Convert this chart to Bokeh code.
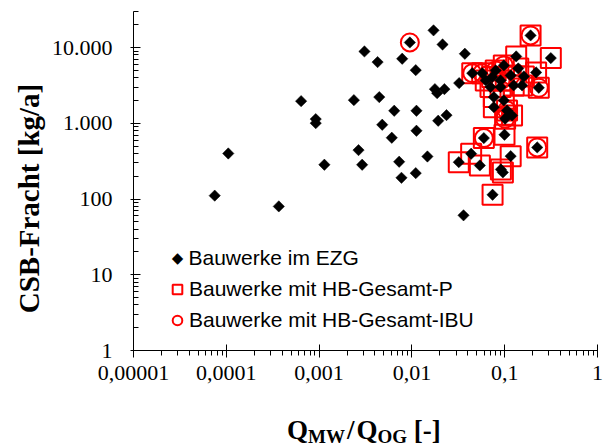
import numpy as np
from bokeh.plotting import figure
from bokeh.layouts import row, column
from bokeh.models import (Range1d, FixedTicker, CustomJSTickFormatter, Legend, LegendItem, Label, Div)
from bokeh.embed import file_html
from bokeh.resources import INLINE

# ---- data ----
# Bauwerke im EZG (all structures) that carry no extra marker
only_x = [7.5e-5, 1.05e-4, 3.68e-4, 6.4e-4, 9.2e-4, 9.2e-4, 1.14e-3, 2.37e-3, 2.66e-3, 2.91e-3,
          3.08e-3, 4.27e-3, 4.45e-3, 4.79e-3, 6.07e-3, 6.45e-3, 7.29e-3, 7.72e-3, 7.86e-3, 0.0110,
          0.0110, 0.0112, 0.0112, 0.0147, 0.0171, 0.0177, 0.0187, 0.0192, 0.0214, 0.0224,
          0.0236, 0.0323, 0.036, 0.0372]
only_y = [111, 400, 80, 1965, 1137, 1006, 284, 2026, 443, 284,
          8900, 6440, 2220, 958, 645, 1466, 311, 191, 7130, 5040,
          220, 1466, 798, 365, 16900, 2830, 2505, 1082, 11000, 2830,
          1283, 3400, 61, 8300]

# Bauwerke mit HB-Gesamt-P
p_x = [0.133, 0.314, 0.190, 0.0447, 0.0572, 0.0978, 0.0733, 0.116, 0.161, 0.233,
       0.0703, 0.0902, 0.125, 0.154, 0.0764, 0.0978, 0.0764, 0.106, 0.12, 0.101,
       0.0902, 0.0625, 0.08, 0.14, 0.218, 0.0596, 0.0995, 0.224, 0.116, 0.032,
       0.0435, 0.054, 0.091, 0.0956, 0.074]
p_y = [7650, 7270, 14500, 4600, 4600, 5820, 4080, 4295, 4170, 2950,
       3010, 3010, 3170, 3170, 2220, 2010, 1637, 1480, 1270, 1150,
       3690, 3690, 5000, 5310, 4700, 638, 707, 481, 369, 307,
       397, 278, 246, 225, 114]

# Bauwerke mit HB-Gesamt-IBU
ibu_x = [0.0095, 0.190, 0.0447, 0.0572, 0.0978, 0.116, 0.233, 0.106, 0.101, 0.0902, 0.08, 0.0596, 0.224]
ibu_y = [11700, 14500, 4600, 4600, 5820, 4295, 2950, 1480, 1150, 3690, 5000, 638, 481]

# all structures (EZG) = unmarked + marked ones
ezg_x = only_x + p_x + [ibu_x[0]]
ezg_y = only_y + p_y + [ibu_y[0]]

x_ticks = [1e-5, 1e-4, 1e-3, 1e-2, 1e-1, 1.0]
x_tick_labels = ["0,00001", "0,0001", "0,001", "0,01", "0,1", "1"]
y_ticks = [1, 10, 100, 1000, 10000]
y_tick_labels = ["1", "10", "100", "1.000", "10.000"]

series_names = ["Bauwerke im EZG", "Bauwerke mit HB-Gesamt-P", "Bauwerke mit HB-Gesamt-IBU"]
y_title = "CSB-Fracht [kg/a]"
x_title_parts = ["Q", "MW", "/", "Q", "OG", " [-]"]

LEG_FONT = "Liberation Sans"
LEG_SIZE = "21px"

# ---- main figure ----
p = figure(width=557, height=400, x_axis_type="log", y_axis_type="log",
           x_range=Range1d(1e-5, 1), y_range=Range1d(1, 30000),
           output_backend="svg", toolbar_location=None,
           min_border_left=86, min_border_right=7, min_border_top=11, min_border_bottom=50)
p.outline_line_color = None
p.xgrid.visible = False
p.ygrid.visible = False

x_minor = [k * 10.0 ** e for e in range(-5, 0) for k in range(2, 10)]
y_minor = [k * 10.0 ** e for e in range(0, 5) for k in range(2, 10) if k * 10.0 ** e <= 30000]
p.xaxis.ticker = FixedTicker(ticks=x_ticks, minor_ticks=x_minor)
p.yaxis.ticker = FixedTicker(ticks=y_ticks, minor_ticks=y_minor)

fmt_code = """
let best = 0, bd = Infinity;
for (let i = 0; i < tk.length; i++) {
  const d = Math.abs(Math.log10(tk[i]) - Math.log10(tick));
  if (d < bd) { bd = d; best = i; }
}
return lb[best];
"""
p.xaxis.formatter = CustomJSTickFormatter(args=dict(tk=x_ticks, lb=x_tick_labels), code=fmt_code)
p.yaxis.formatter = CustomJSTickFormatter(args=dict(tk=y_ticks, lb=y_tick_labels), code=fmt_code)

for ax in (p.xaxis[0], p.yaxis[0]):
    ax.axis_line_color = "black"
    ax.major_tick_line_color = "black"
    ax.minor_tick_line_color = "black"
    ax.major_label_text_font = "Liberation Serif"
    ax.major_label_text_font_size = "22px"
    ax.major_label_text_color = "black"

p.xaxis.major_tick_in = 6
p.xaxis.major_tick_out = 7
p.xaxis.minor_tick_in = 0
p.xaxis.minor_tick_out = 5
p.xaxis.major_label_standoff = 8

p.yaxis.major_tick_in = 7
p.yaxis.major_tick_out = 3
p.yaxis.minor_tick_in = 5
p.yaxis.minor_tick_out = 0
p.yaxis.major_label_standoff = 18

# ---- glyphs ----
r_p = p.scatter(p_x, p_y, marker="square", size=20, fill_color=None,
                line_color="#FF0000", line_width=2)
r_ibu = p.scatter(ibu_x, ibu_y, marker="circle", size=18, fill_color=None,
                  line_color="#FF0000", line_width=2)
r_ezg = p.scatter(ezg_x, ezg_y, marker="square", angle=np.pi / 4, size=8,
                  fill_color="black", line_color="black", line_width=0.5)

# ---- legend ----
# row 1 (diamond symbol + text)
p.add_layout(Label(x=44, y=93, x_units="screen", y_units="screen", text="\u25C6",
                   text_align="center", text_baseline="middle", text_font="DejaVu Sans",
                   text_font_size="15px", text_color="black"))
p.add_layout(Label(x=55, y=93, x_units="screen", y_units="screen", text=series_names[0],
                   text_align="left", text_baseline="middle", text_font=LEG_FONT,
                   text_font_size=LEG_SIZE, text_color="black"))
# rows 2 and 3
lg = Legend(items=[LegendItem(label=series_names[1], renderers=[r_p]),
                   LegendItem(label=series_names[2], renderers=[r_ibu])],
            location=(32, 18), glyph_width=24, glyph_height=24, label_standoff=0,
            padding=0, margin=0, spacing=7, border_line_color=None,
            background_fill_alpha=0, label_text_font=LEG_FONT,
            label_text_font_size=LEG_SIZE, label_text_color="black",
            label_text_baseline="middle", label_height=24)
p.add_layout(lg, "center")

# ---- y-axis title panel ----
left = figure(width=47, height=448, x_range=Range1d(0, 1), y_range=Range1d(0, 1),
              output_backend="svg", toolbar_location=None,
              min_border=0, x_axis_type=None, y_axis_type=None)
left.outline_line_color = None
left.grid.visible = False
left.add_layout(Label(x=28, y=250, x_units="screen", y_units="screen", text=y_title,
                      angle=np.pi / 2, text_align="center", text_baseline="middle",
                      text_font="Liberation Serif", text_font_style="bold",
                      text_font_size="29px", text_color="black"))

# ---- x-axis title (HTML, for the subscripts) ----
sub = '<span style="font-size:19px; vertical-align:-4px; line-height:0;">%s</span>'
x_title_html = (
    '<div style="margin:17px 0 0 240px; font-family:\'Liberation Serif\'; font-weight:bold; '
    'font-size:27px; line-height:27px; color:black; white-space:nowrap;">'
    + x_title_parts[0] + sub % x_title_parts[1]
    + '<span style="margin:0 2px;">' + x_title_parts[2] + '</span>'
    + x_title_parts[3] + sub % x_title_parts[4] + x_title_parts[5].replace(" ", "&nbsp;")
    + '</div>')
bottom = Div(text=x_title_html, width=557, height=48, margin=0)

layout = row(left, column(p, bottom, spacing=0), spacing=0)
open("out.html", "w").write(file_html(layout, INLINE))
